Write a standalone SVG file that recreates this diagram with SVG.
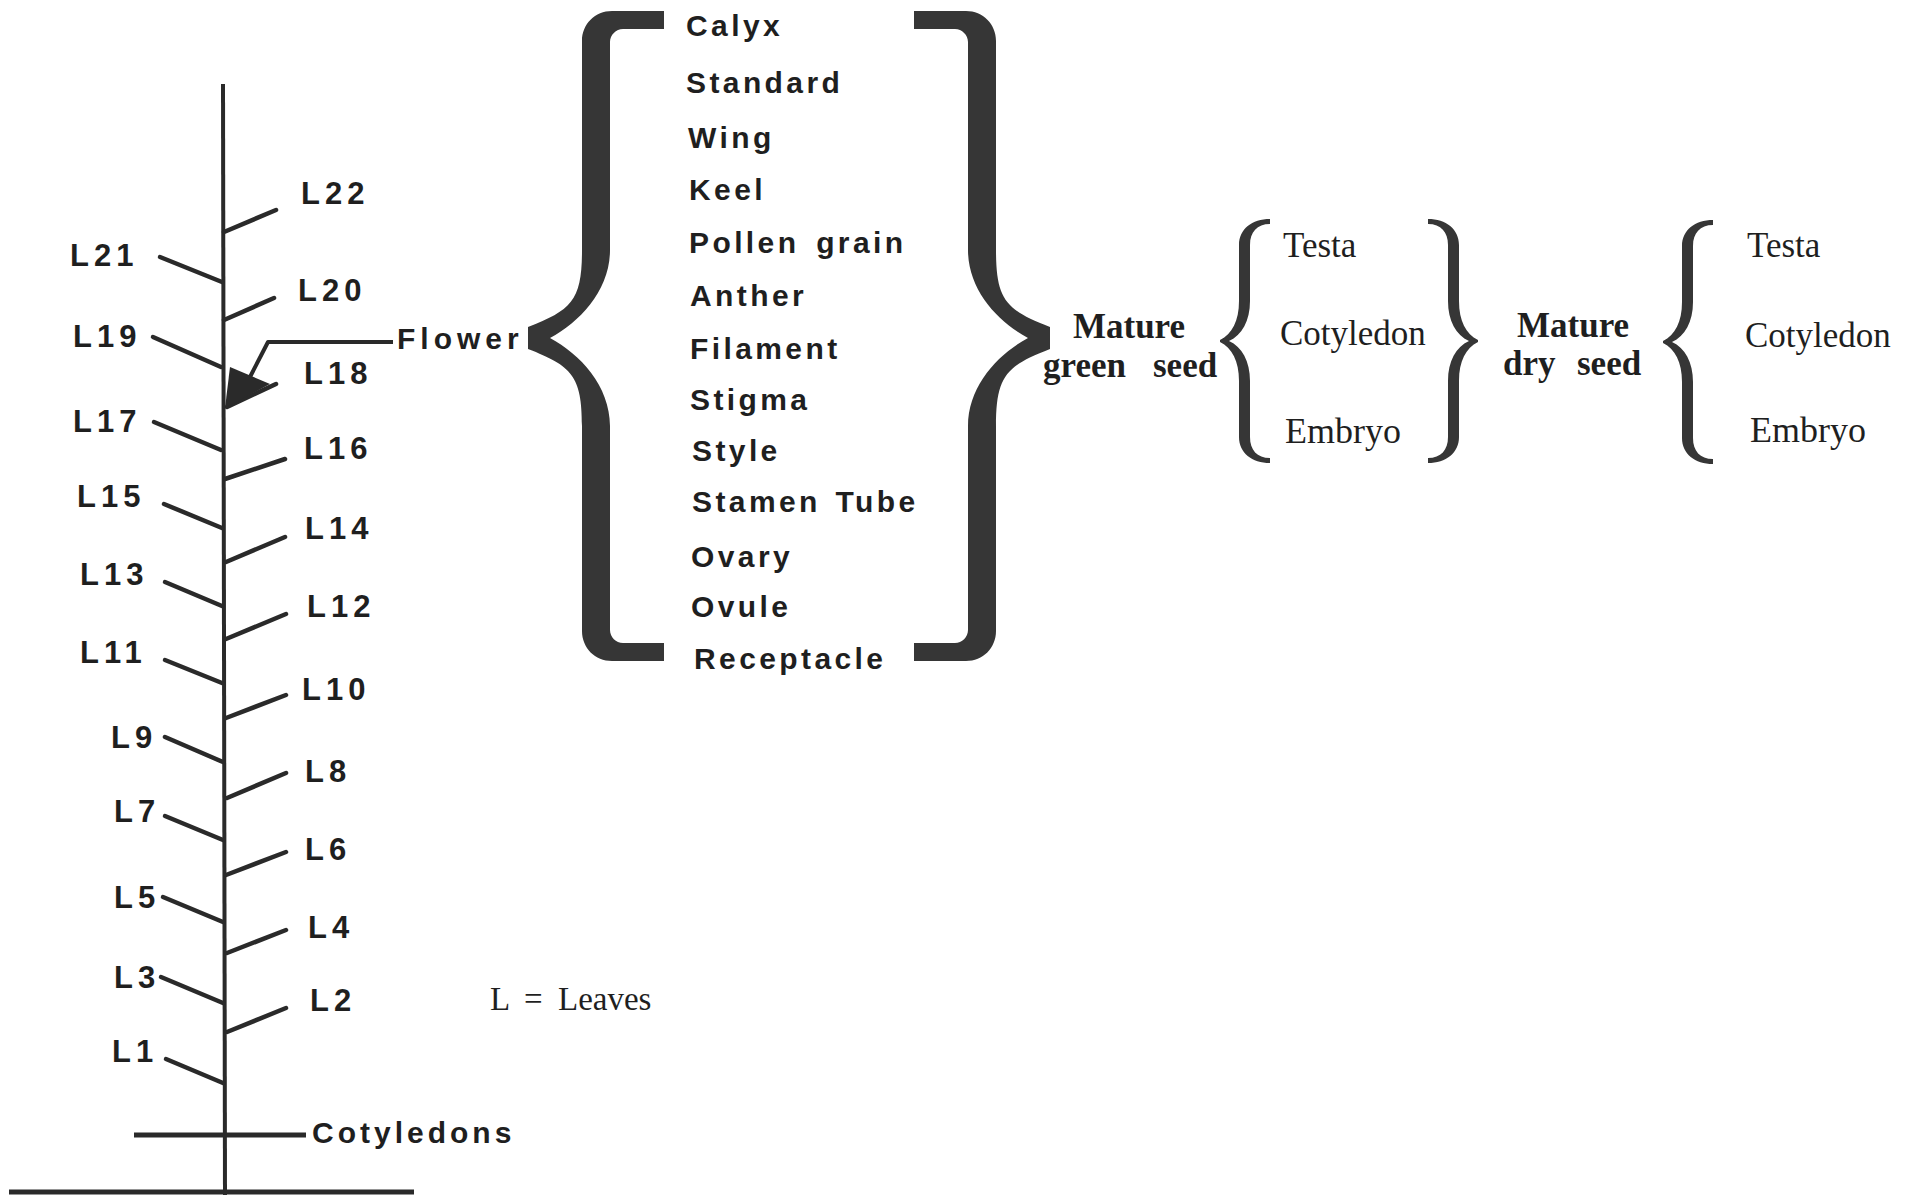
<svg xmlns="http://www.w3.org/2000/svg" xmlns:xlink="http://www.w3.org/1999/xlink" width="1912" height="1195" viewBox="0 0 1912 1195">
  <style>
    .stem { stroke: #2a2a2a; stroke-width: 4; fill: none; }
    .leaf { stroke: #2a2a2a; stroke-width: 4.5; stroke-linecap: round; fill: none; }
    .sans { font-family: "Liberation Sans", Arial, Helvetica, sans-serif; font-weight: bold; fill: #1f1f1f; }
    .lbl { font-size: 31px; letter-spacing: 5px; }
    .part { font-size: 30px; letter-spacing: 3.4px; }
    .serif { font-family: "Liberation Serif", "Times New Roman", serif; fill: #1f1f1f; font-size: 35px; }
    .bold { font-weight: bold; }
    .brace { fill: #363636; }
    .conn { stroke: #2a2a2a; stroke-width: 4; fill: none; stroke-linejoin: round; }
  </style>
  <defs>
    <!-- large curly brace, opening to the right, tip on the left -->
    <path id="bigBrace" d="M 664,11 L 612,11 C 595,11 582,24 582,41 L 582,250 C 582,300 572,310 528,327 L 528,349 C 572,366 582,376 582,426 L 582,631 C 582,648 595,661 612,661 L 664,661 L 664,643 L 623,643 C 616,643 610,637 610,630 L 610,426 C 610,386 580,354 550,338 C 580,322 610,290 610,250 L 610,42 C 610,35 616,29 623,29 L 664,29 Z"/>
    <!-- small serif brace, tip at the origin, opening to the right -->
    <path id="smallBrace" d="M 0,-1 C 12,-7 19,-20 19,-40 L 19,-96 C 19,-112 32,-122 50,-122 L 50,-117 C 37,-117 30,-109 30,-96 L 30,-40 C 30,-20 22,-6 9,0 C 22,6 30,20 30,40 L 30,96 C 30,109 37,117 50,117 L 50,122 C 32,122 19,112 19,96 L 19,40 C 19,20 12,7 0,1 Z"/>
  </defs>

  <rect width="1912" height="1195" fill="#ffffff"/>

  <!-- main axis of the plant, ground and cotyledons -->
  <g id="plant">
    <line class="stem" x1="223" y1="84" x2="225" y2="1195"/>
    <line class="stem" x1="9" y1="1192" x2="414" y2="1192" style="stroke-width:5"/>
    <line class="stem" x1="134" y1="1135" x2="306" y2="1135" style="stroke-width:5"/>
  </g>
  <g id="cotyledons">
    <text class="sans part" x="312" y="1143" style="letter-spacing:4px">Cotyledons</text>
  </g>

  <!-- leaves, right side -->
  <g id="leaf-L22"><line class="leaf" x1="224" y1="232" x2="276" y2="210"/><text class="sans lbl" x="301" y="204">L22</text></g>
  <g id="leaf-L20"><line class="leaf" x1="224" y1="320" x2="274" y2="298"/><text class="sans lbl" x="298" y="301">L20</text></g>
  <g id="leaf-L18"><line class="leaf" x1="227" y1="407" x2="276" y2="384"/><text class="sans lbl" x="304" y="384">L18</text></g>
  <g id="leaf-L16"><line class="leaf" x1="225" y1="479" x2="285" y2="459"/><text class="sans lbl" x="304" y="459">L16</text></g>
  <g id="leaf-L14"><line class="leaf" x1="226" y1="562" x2="285" y2="537"/><text class="sans lbl" x="305" y="539">L14</text></g>
  <g id="leaf-L12"><line class="leaf" x1="226" y1="639" x2="286" y2="614"/><text class="sans lbl" x="307" y="617">L12</text></g>
  <g id="leaf-L10"><line class="leaf" x1="226" y1="718" x2="286" y2="695"/><text class="sans lbl" x="302" y="700">L10</text></g>
  <g id="leaf-L8"><line class="leaf" x1="227" y1="798" x2="286" y2="773"/><text class="sans lbl" x="305" y="782">L8</text></g>
  <g id="leaf-L6"><line class="leaf" x1="226" y1="875" x2="286" y2="852"/><text class="sans lbl" x="305" y="860">L6</text></g>
  <g id="leaf-L4"><line class="leaf" x1="227" y1="953" x2="286" y2="930"/><text class="sans lbl" x="308" y="938">L4</text></g>
  <g id="leaf-L2"><line class="leaf" x1="227" y1="1032" x2="286" y2="1008"/><text class="sans lbl" x="310" y="1011">L2</text></g>

  <!-- leaves, left side -->
  <g id="leaf-L21"><line class="leaf" x1="160" y1="257" x2="222" y2="282"/><text class="sans lbl" x="70" y="266">L21</text></g>
  <g id="leaf-L19"><line class="leaf" x1="153" y1="337" x2="221" y2="367"/><text class="sans lbl" x="73" y="347">L19</text></g>
  <g id="leaf-L17"><line class="leaf" x1="154" y1="422" x2="221" y2="450"/><text class="sans lbl" x="73" y="432">L17</text></g>
  <g id="leaf-L15"><line class="leaf" x1="164" y1="504" x2="222" y2="528"/><text class="sans lbl" x="77" y="507">L15</text></g>
  <g id="leaf-L13"><line class="leaf" x1="165" y1="582" x2="222" y2="606"/><text class="sans lbl" x="80" y="585">L13</text></g>
  <g id="leaf-L11"><line class="leaf" x1="165" y1="660" x2="222" y2="683"/><text class="sans lbl" x="80" y="663">L11</text></g>
  <g id="leaf-L9"><line class="leaf" x1="165" y1="737" x2="223" y2="762"/><text class="sans lbl" x="111" y="748">L9</text></g>
  <g id="leaf-L7"><line class="leaf" x1="165" y1="816" x2="223" y2="840"/><text class="sans lbl" x="114" y="822">L7</text></g>
  <g id="leaf-L5"><line class="leaf" x1="163" y1="897" x2="223" y2="922"/><text class="sans lbl" x="114" y="908">L5</text></g>
  <g id="leaf-L3"><line class="leaf" x1="161" y1="977" x2="223" y2="1003"/><text class="sans lbl" x="114" y="988">L3</text></g>
  <g id="leaf-L1"><line class="leaf" x1="166" y1="1059" x2="223" y2="1083"/><text class="sans lbl" x="112" y="1062">L1</text></g>

  <g id="legend">
    <text class="serif" x="490" y="1010" style="font-size:33px">L</text>
    <text class="serif" x="524" y="1010" style="font-size:33px">=</text>
    <text class="serif" x="558" y="1010" style="font-size:33px">Leaves</text>
  </g>

  <g id="flower">
    <text class="sans part" x="397" y="349" style="letter-spacing:5px">Flower</text>
  </g>

  <g id="flower-parts">
    <text class="sans part" x="686" y="36">Calyx</text>
    <text class="sans part" x="686" y="93">Standard</text>
    <text class="sans part" x="688" y="148">Wing</text>
    <text class="sans part" x="689" y="200">Keel</text>
    <text class="sans part" x="689" y="253" style="word-spacing:5px">Pollen grain</text>
    <text class="sans part" x="690" y="306">Anther</text>
    <text class="sans part" x="690" y="359">Filament</text>
    <text class="sans part" x="690" y="410">Stigma</text>
    <text class="sans part" x="692" y="461">Style</text>
    <text class="sans part" x="692" y="512" style="word-spacing:3px">Stamen Tube</text>
    <text class="sans part" x="691" y="567">Ovary</text>
    <text class="sans part" x="691" y="617">Ovule</text>
    <text class="sans part" x="694" y="669">Receptacle</text>
  </g>

  <g id="mature-green-seed">
    <text class="serif bold" x="1129" y="338" text-anchor="middle">Mature</text>
    <text class="serif bold" x="1043" y="377">green</text>
    <text class="serif bold" x="1153" y="377">seed</text>
  </g>
  <g id="green-seed-parts">
    <text class="serif" x="1283" y="257">Testa</text>
    <text class="serif" x="1280" y="345">Cotyledon</text>
    <text class="serif" x="1285" y="443" style="font-size:36px">Embryo</text>
  </g>

  <g id="mature-dry-seed">
    <text class="serif bold" x="1517" y="337">Mature</text>
    <text class="serif bold" x="1503" y="375">dry</text>
    <text class="serif bold" x="1577" y="375">seed</text>
  </g>
  <g id="dry-seed-parts">
    <text class="serif" x="1747" y="257">Testa</text>
    <text class="serif" x="1745" y="347">Cotyledon</text>
    <text class="serif" x="1750" y="442" style="font-size:36px">Embryo</text>
  </g>

  <!-- connectors: pointer to the flower and the grouping braces -->
  <g id="connectors">
    <polyline class="conn" points="393,342 268,342 250,377"/>
    <polygon points="225,408 230,367 270,384" fill="#2a2a2a"/>
    <use xlink:href="#bigBrace" class="brace"/>
    <use xlink:href="#bigBrace" class="brace" transform="translate(1578,0) scale(-1,1)"/>
    <use xlink:href="#smallBrace" class="brace" transform="translate(1220,341)"/>
    <use xlink:href="#smallBrace" class="brace" transform="translate(1478,341) scale(-1,1)"/>
    <use xlink:href="#smallBrace" class="brace" transform="translate(1663,342)"/>
  </g>
</svg>
